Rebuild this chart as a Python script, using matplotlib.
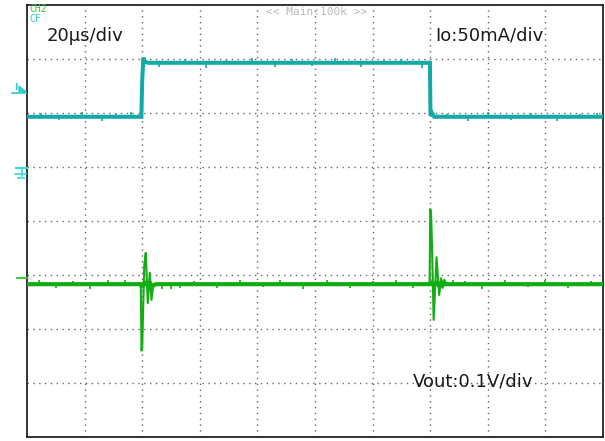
import numpy as np
import matplotlib
matplotlib.use("Agg")
import matplotlib.pyplot as plt
from matplotlib.lines import Line2D
from matplotlib.patches import Polygon

# ---- data (in screen divisions: 10 horizontal x 8 vertical) ----
# Io trace: load current step
io_t = [0.0, 1.985, 2.0, 2.02, 2.05, 2.10, 6.995, 7.005, 7.03, 7.07, 10.0]
io_v = [5.93, 5.93, 6.60, 7.02, 6.95, 6.93, 6.93, 5.95, 6.00, 5.93, 5.93]

# Vout trace: output voltage with transients at the load steps
vo_t = [0.0, 1.975, 1.988, 2.0, 2.012, 2.036, 2.062, 2.097, 2.132, 2.161, 2.189, 2.23,
        6.99, 7.0, 7.015, 7.03, 7.06, 7.11, 7.155, 7.19, 7.215, 7.245, 7.28, 10.0]
vo_v = [2.83, 2.83, 1.60, 1.65, 2.17, 3.19, 3.41, 2.48, 3.04, 2.54, 2.78, 2.83,
        2.83, 4.22, 4.15, 3.60, 2.17, 3.33, 2.63, 2.94, 2.76, 2.91, 2.83, 2.83]
vo_base_level = 2.83

# small noise glitches on each trace (time, offset in divisions)
io_glitch_t = [0.25, 0.55, 0.95, 1.3, 1.55, 1.8, 2.3, 2.75, 3.1, 3.45, 3.9, 4.3, 4.6,
               4.95, 5.35, 5.8, 6.2, 6.5, 6.85, 7.3, 7.65, 8.0, 8.4, 8.75, 9.2, 9.6, 9.9]
io_glitch_dv = [0.07, -0.06, 0.08, -0.07, 0.06, 0.09, -0.08, 0.07, -0.09, 0.06, 0.08, -0.07, 0.07,
                -0.06, 0.08, -0.08, 0.06, 0.07, -0.09, 0.06, -0.07, 0.08, -0.06, 0.07, -0.08, 0.06, 0.07]
vo_glitch_t = [0.2, 0.5, 0.8, 1.1, 1.4, 1.7, 2.35, 2.5, 2.65, 2.9, 3.3, 3.7, 4.1, 4.4,
               4.8, 5.2, 5.6, 6.0, 6.4, 6.7, 7.4, 7.6, 7.9, 8.3, 8.7, 9.0, 9.4, 9.8]
vo_glitch_dv = [0.08, -0.07, 0.06, -0.08, 0.07, 0.08, -0.09, -0.08, -0.07, 0.06, -0.07, 0.08, -0.06, 0.07,
                -0.08, 0.07, -0.07, 0.06, 0.08, -0.07, 0.07, 0.06, -0.08, 0.07, -0.06, 0.08, -0.07, 0.06]

labels = {"time": "20\u03bcs/div", "io": "Io:50mA/div", "vo": "Vout:0.1V/div",
          "main": "<< Main:100k >>"}

CYAN = "#14a9a5"
GREEN = "#12ad12"

W, H = 605, 441
fig = plt.figure(figsize=(W / 100, H / 100), dpi=100)
fig.patch.set_facecolor("white")

x0, y_top, x1, y_bot = 27, 5, 603, 437
ax = fig.add_axes([x0 / W, (H - y_bot) / H, (x1 - x0) / W, (y_bot - y_top) / H])
ax.set_xlim(0, 10)
ax.set_ylim(0, 8)
ax.set_xticks([])
ax.set_yticks([])
for s in ax.spines.values():
    s.set_linewidth(1.3)
    s.set_color("#222222")

# dotted graticule
for gx in range(1, 10):
    ax.axvline(gx, color="#666666", lw=1.0, ls=(0, (1.0, 3.2)), zorder=1)
for gy in range(1, 8):
    ax.axhline(gy, color="#666666", lw=1.0, ls=(0, (1.0, 3.2)), zorder=1)

# traces
ax.plot(io_t, io_v, color=CYAN, lw=2.9, solid_joinstyle="miter", zorder=3)
# Vout: thin line for the fast transients, thick band for the settled trace
ax.plot(vo_t, vo_v, color=GREEN, lw=1.5, zorder=3)
ax.plot(vo_t, np.clip(vo_v, vo_base_level - 0.03, vo_base_level + 0.03),
        color=GREEN, lw=3.0, zorder=3)

io_base = np.interp(io_glitch_t, io_t, io_v)
ax.vlines(io_glitch_t, io_base, io_base + np.array(io_glitch_dv), color=CYAN, lw=1.2, zorder=3)
vo_base = np.interp(vo_glitch_t, vo_t, vo_v)
ax.vlines(vo_glitch_t, vo_base, vo_base + np.array(vo_glitch_dv), color=GREEN, lw=1.2, zorder=3)

# annotation text
def px(x, y):
    return x / W, 1 - y / H

fig.text(*px(47, 36), labels["time"], fontsize=13, color="#1a1a1a", va="center", ha="left")
fig.text(*px(435, 35), labels["io"], fontsize=13, color="#1a1a1a", va="center", ha="left")
fig.text(*px(413, 382), labels["vo"], fontsize=13, color="#1a1a1a", va="center", ha="left")
fig.text(*px(317, 12), labels["main"], fontsize=8, color="#b9b9b9", va="center", ha="center",
         family="DejaVu Sans Mono")
fig.text(*px(29, 12.5), "CH2", fontsize=7, color="#33cc33", va="baseline", ha="left",
         family="DejaVu Sans Mono")
fig.text(*px(29, 22.5), "CF", fontsize=7, color="#33cccc", va="baseline", ha="left",
         family="DejaVu Sans Mono")

# left-side channel markers
def fline(xa, ya, xb, yb, c, lw=1.5):
    fig.add_artist(Line2D([xa / W, xb / W], [1 - ya / H, 1 - yb / H], color=c, lw=lw,
                          transform=fig.transFigure))

fig.text(*px(16, 87), "I", fontsize=6.5, color="#33cccc", va="center", ha="center", weight="bold")
fig.add_artist(Polygon([px(19, 86), px(26, 92), px(19, 92)], closed=True, color="#33cccc",
                       transform=fig.transFigure))
fline(12, 92.5, 26, 92.5, "#33cccc", 1.2)
# trigger marker
fline(16, 168, 27, 168, "#33dddd", 1.5)
fline(21.5, 168, 21.5, 176, "#33dddd", 1.2)
fline(15, 174, 26, 174, "#33dddd", 1.2)
fline(18, 178, 24, 178, "#66dddd", 1.5)
# ground marker for Vout
fline(17, 277.5, 27, 277.5, "#22cc22", 1.3)

fig.savefig("out.png", dpi=100, facecolor="white")
